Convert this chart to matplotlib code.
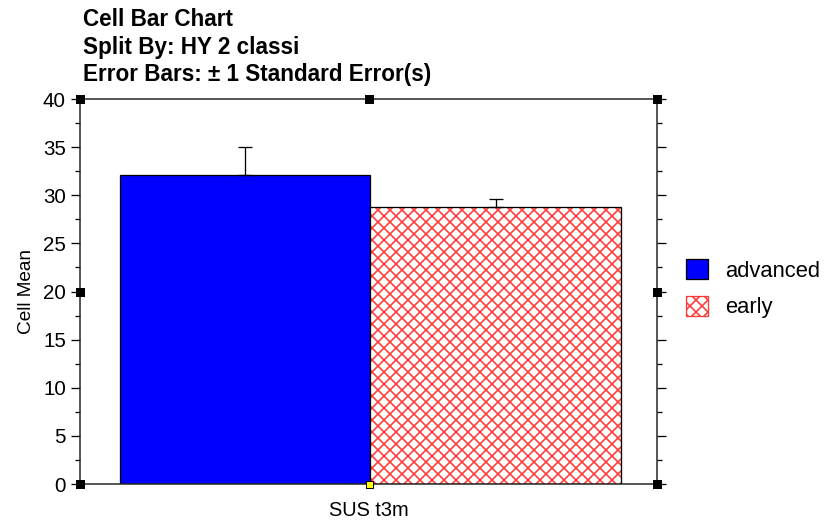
import numpy as np
import matplotlib.pyplot as plt
from matplotlib.patches import Patch
from matplotlib.ticker import MultipleLocator

DPI = 144


def px(v):
    # pixel size -> points at the figure dpi
    return v * 72.0 / DPI


plt.rcParams['font.family'] = ['Liberation Sans', 'DejaVu Sans']
plt.rcParams['hatch.linewidth'] = px(1.6)

groups = ["advanced", "early"]
cell_means = [32.1, 28.8]
std_errors = [2.9, 0.8]
category = "SUS t3m"

fig = plt.figure(figsize=(828 / DPI, 524 / DPI), dpi=DPI)
ax = fig.add_axes([0.0966, 0.0763, 0.6969, 0.7347])

x = np.array([-0.5, 0.5])
w = 1.0
# first group solid blue
ax.bar(x[0], cell_means[0], width=w, color="#0000ff", edgecolor="black", linewidth=px(1.3), zorder=2)
# second group red cross-hatch on white, outlined in black
ax.bar(x[1], cell_means[1], width=w, color="white", edgecolor="#ff3838", hatch="xxxx", linewidth=0, zorder=2)
ax.bar(x[1], cell_means[1], width=w, color="none", edgecolor="black", linewidth=px(1.3), zorder=3)

# upper standard error bars only
ax.errorbar(x, cell_means, yerr=[np.zeros(2), std_errors], fmt="none", ecolor="black",
            elinewidth=px(1.3), capsize=px(7), capthick=px(1.3), zorder=4)

ax.set_xlim(-1.16, 1.145)
ax.set_ylim(0, 40)
ax.yaxis.set_major_locator(MultipleLocator(5))
ax.yaxis.set_minor_locator(MultipleLocator(2.5))
ax.tick_params(axis="y", which="major", direction="out", length=px(9), width=px(1.3),
               labelsize=px(20.5), pad=px(5), right=True, labelright=False)
ax.tick_params(axis="y", which="minor", direction="out", length=px(5), width=px(1.3), right=True)
ax.set_xticks([0])
ax.set_xticklabels([""])
ax.tick_params(axis="x", length=0)
for s in ax.spines.values():
    s.set_linewidth(px(1.5))
    s.set_color("#222222")

ax.set_ylabel("Cell Mean", fontsize=px(19), labelpad=px(8))
ax.set_xlabel(category, fontsize=px(20), labelpad=px(10))

# selection handles on the frame
hx = [0, 0.5, 1, 0, 1, 0, 1]
hy = [1, 1, 1, 0.5, 0.5, 0, 0]
ax.plot(hx, hy, "s", ms=px(7), color="black", transform=ax.transAxes, clip_on=False, zorder=6)
ax.plot([0.5], [0], "s", ms=px(7), color="#ffff00", mec="black", mew=px(1),
        transform=ax.transAxes, clip_on=False, zorder=6)

fig.text(0.1, 0.962, "Cell Bar Chart", fontsize=px(22.5), fontweight="bold", va="center")
fig.text(0.1, 0.910, "Split By: HY 2 classi", fontsize=px(22.5), fontweight="bold", va="center")
fig.text(0.1, 0.857, "Error Bars: \u00b1 1 Standard Error(s)", fontsize=px(22.5), fontweight="bold", va="center")

handles = [Patch(facecolor="#0000ff", edgecolor="black", linewidth=px(1.3), label=groups[0]),
           Patch(facecolor="white", edgecolor="#ff3838", hatch="xxxx", linewidth=px(1.3), label=groups[1])]
fig.legend(handles=handles, loc="center left", bbox_to_anchor=(0.8285, 0.449),
           frameon=False, fontsize=px(22), handlelength=1.0, handleheight=1.0,
           handletextpad=0.8, labelspacing=0.65, borderpad=0, borderaxespad=0)

fig.savefig("out.png", dpi=DPI)
